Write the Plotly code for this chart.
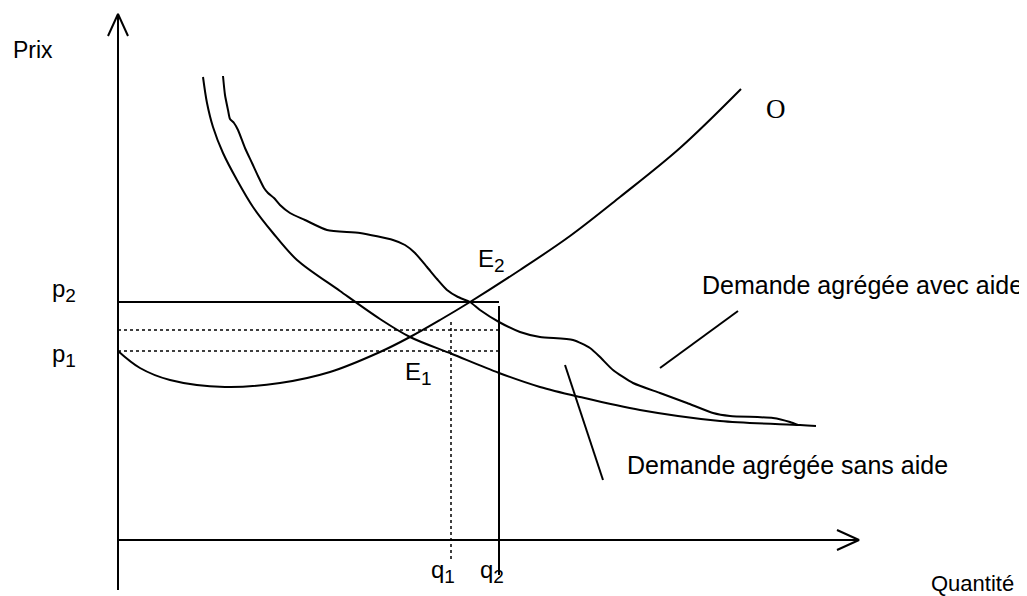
import plotly.graph_objects as go

# ---- Data (quantity, price) in chart units; origin at axes crossing ----
supply_q = [0, 2.2, 5.2, 10.7, 16.2, 21.2, 26.2, 29.2, 32.2, 35.2, 40.2, 45.2, 50.2, 56.2, 62.3]
supply_p = [18.9, 17.2, 16.0, 15.3, 15.7, 16.8, 18.8, 20.3, 22.0, 23.8, 27.0, 30.4, 34.3, 39.2, 45.1]

dem_sans_q = [8.5, 8.9, 9.5, 10.5, 11.9, 13.5, 15.5, 17.9, 22.2, 26.2, 29.2, 33.4, 38.1,
              42.2, 46.2, 52.2, 60.2, 68.2, 69.8]
dem_sans_p = [46.3, 43.7, 41.3, 38.7, 36.0, 33.3, 30.7, 28.0, 24.9, 22.1, 20.3, 18.6, 16.7,
              15.3, 14.3, 13.0, 11.9, 11.5, 11.4]

dem_avec_q = [10.5, 10.7, 11.0, 11.2, 11.6, 12.0, 12.7, 13.4, 14.0, 14.6, 15.0, 15.6, 16.2,
              17.2, 18.7, 20.9, 24.2, 27.5, 28.7, 29.7, 30.9, 31.9, 32.9, 34.0, 35.2,
              36.2, 38.1, 40.2, 42.2, 45.5, 47.2, 48.2, 49.5, 51.5, 54.2, 56.9, 59.5, 61.2,
              65.5, 67.2, 68.0]
dem_avec_p = [46.4, 44.5, 43.0, 42.1, 41.7, 41.0, 39.2, 37.7, 36.4, 35.2, 34.7, 34.2, 33.5,
              32.7, 32.0, 31.0, 30.7, 30.0, 29.5, 28.7, 27.3, 26.1, 25.0, 24.3, 23.8,
              23.0, 21.8, 20.8, 20.3, 20.0, 19.2, 18.3, 17.0, 15.7, 14.7, 13.7, 12.7, 12.4,
              12.2, 11.8, 11.5]

p2 = 23.8
p1 = 18.9
p_mid = 21.0
q1 = 33.3
q2 = 38.1

axis_q_max = 74.1
axis_p_max = 52.6
axis_p_min = -5.0

leader_avec_q = [54.2, 62.0]
leader_avec_p = [17.2, 22.9]
leader_sans_q = [44.7, 48.5]
leader_sans_p = [17.5, 6.0]

# ---- Style ----
BLACK = "#000000"
FONT = "Liberation Sans, Arial, sans-serif"
SERIF = "Liberation Serif, Times New Roman, serif"
ARR_L = 2.2
ARR_W = 1.0

fig = go.Figure()

def line(xs, ys, width=2, dash="solid", shape="linear", smoothing=1.0):
    kw = dict(color=BLACK, width=width, dash=dash, shape=shape)
    if shape == "spline":
        kw["smoothing"] = smoothing
    fig.add_trace(go.Scatter(x=xs, y=ys, mode="lines", line=kw,
                             hoverinfo="skip", showlegend=False))

# axes with open arrowheads
line([0, 0], [axis_p_min, axis_p_max], width=2)
line([-ARR_W, 0, ARR_W], [axis_p_max - ARR_L, axis_p_max, axis_p_max - ARR_L], width=2)
line([0, axis_q_max], [0, 0], width=2)
line([axis_q_max - ARR_L, axis_q_max, axis_q_max - ARR_L], [ARR_W, 0, -ARR_W], width=2)

# price / quantity guides
line([0, q2], [p2, p2], width=2)
line([0, q2], [p_mid, p_mid], width=1.5, dash="dot")
line([0, q2], [p1, p1], width=1.5, dash="dot")
line([q2, q2], [p2 - 0.4, -3.5], width=2)
line([q1, q1], [p2 - 2.0, -2.0], width=1.5, dash="dot")

# curves
line(supply_q, supply_p, width=2, shape="spline", smoothing=1.0)
line(dem_sans_q, dem_sans_p, width=2, shape="spline", smoothing=0.9)
line(dem_avec_q, dem_avec_p, width=2, shape="spline", smoothing=0.6)

# leaders
line(leader_avec_q, leader_avec_p, width=2)
line(leader_sans_q, leader_sans_p, width=2)

def label(x, y, text, size=24, family=FONT, xanchor="center"):
    fig.add_annotation(x=x, y=y, xref="x", yref="y", text=text, showarrow=False,
                       xanchor=xanchor, yanchor="middle",
                       font=dict(family=family, size=size, color=BLACK))

def sub(base, idx):
    return f"{base}<sub><span style='font-size:19px'>{idx}</span></sub>"

label(-8.5, 49.0, "Prix", size=23)
label(-5.4, 25.0, sub("p", "2"), size=24)
label(-5.4, 18.5, sub("p", "1"), size=24)
label(37.3, 28.0, sub("E", "2"), size=24)
label(30.0, 16.7, sub("E", "1"), size=24)
label(32.5, -3.1, sub("q", "1"), size=24)
label(37.4, -3.1, sub("q", "2"), size=24)
label(85.4, -4.3, "Quantité", size=22)
label(65.8, 43.1, "O", size=27, family=SERIF)
label(58.2, 25.5, "Demande agrégée avec aide", size=25, xanchor="left")
label(50.7, 7.5, "Demande agrégée sans aide", size=25, xanchor="left")

# the page body has an 8px margin: shift the ranges so the drawing lands where the reference has it
fig.update_layout(
    width=1027, height=596,
    margin=dict(l=0, r=0, t=0, b=0),
    paper_bgcolor="white", plot_bgcolor="white",
    showlegend=False,
    xaxis=dict(range=[-11.0, 91.7], visible=False, fixedrange=True),
    yaxis=dict(range=[-6.4, 53.2], visible=False, fixedrange=True),
)

fig.write_html("out.html")
